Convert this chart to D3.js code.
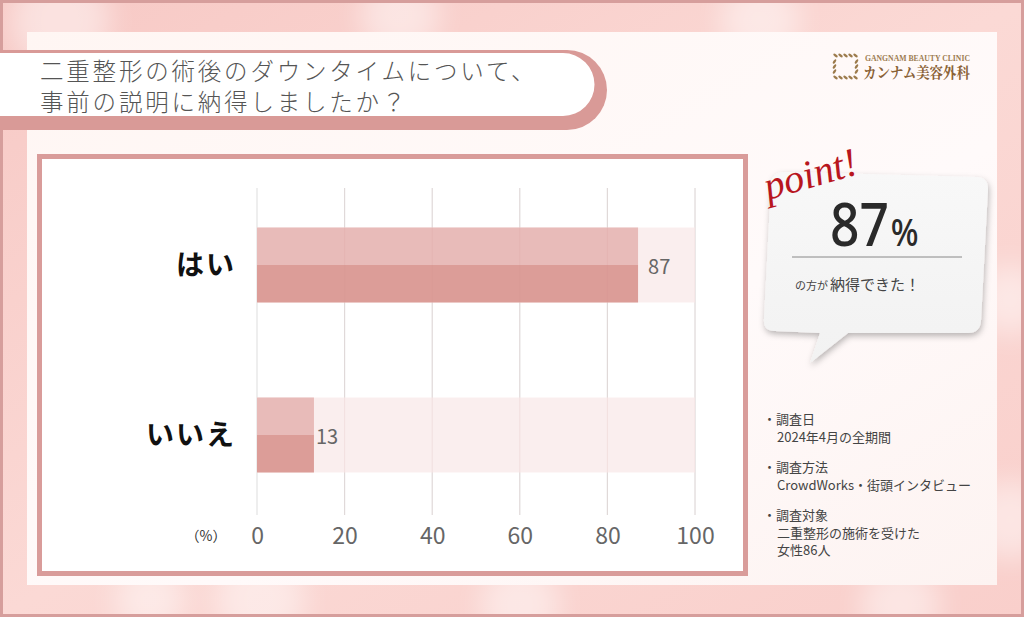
<!DOCTYPE html>
<html><head><meta charset="utf-8">
<script src="https://cdn.jsdelivr.net/npm/d3@7/dist/d3.min.js"></script>
<style>body{margin:0;overflow:hidden;background:#fff}svg{display:block}</style>
</head><body><svg id="c" width="1024" height="617"></svg>
<script>
// ---- data ----
const categories = ["はい", "いいえ"];
const values = [87, 13];
const xTicks = [0, 20, 40, 60, 80, 100];
const xMax = 100;
const titleLines = ["二重整形の術後のダウンタイムについて、", "事前の説明に納得しましたか？"];
const highlightValue = 87;
const highlightCaptionSmall = "の方が";
const highlightCaptionBig = "納得できた！";
const noteHeads = ["調査日", "調査方法", "調査対象"];
const noteBodies = [["2024年4月の全期間"], ["CrowdWorks・街頭インタビュー"], ["二重整形の施術を受けた", "女性86人"]];
const unitLabel = "（%）";

// ---- drawing ----
const svg = d3.select("#c");
const JP = "'Noto Sans CJK JP','Noto Sans',sans-serif";
const defs = svg.append("defs");

const bg = defs.append("linearGradient").attr("id", "bgG").attr("x1", 0).attr("y1", 0).attr("x2", 1).attr("y2", 1);
bg.append("stop").attr("offset", 0).attr("stop-color", "#f7c9c5");
bg.append("stop").attr("offset", 0.5).attr("stop-color", "#fbd9d5");
bg.append("stop").attr("offset", 1).attr("stop-color", "#f9cfcb");
const blur = defs.append("filter").attr("id", "blur").attr("x", "-50%").attr("y", "-50%").attr("width", "200%").attr("height", "200%");
blur.append("feGaussianBlur").attr("stdDeviation", 14);
const sh = defs.append("filter").attr("id", "sh").attr("x", "-20%").attr("y", "-20%").attr("width", "140%").attr("height", "150%");
sh.append("feDropShadow").attr("dx", 1).attr("dy", 3).attr("stdDeviation", 3).attr("flood-color", "#000").attr("flood-opacity", 0.28);
const cardG = defs.append("linearGradient").attr("id", "cardG").attr("x1", 0).attr("y1", 0).attr("x2", 1).attr("y2", 1);
cardG.append("stop").attr("offset", 0).attr("stop-color", "#fff6f3");
cardG.append("stop").attr("offset", 0.6).attr("stop-color", "#fffafa");
cardG.append("stop").attr("offset", 1).attr("stop-color", "#fdf3f1");
const bubG = defs.append("linearGradient").attr("id", "bubG").attr("x1", 0).attr("y1", 0).attr("x2", 0).attr("y2", 1);
bubG.append("stop").attr("offset", 0).attr("stop-color", "#f8f8f8");
bubG.append("stop").attr("offset", 1).attr("stop-color", "#f2f2f2");

// background
svg.append("rect").attr("width", 1024).attr("height", 617).attr("fill", "url(#bgG)");
const bokeh = [[60, 20, 50], [260, 600, 45], [520, 605, 40], [760, 20, 40], [1010, 300, 35], [1010, 520, 40], [150, 600, 35], [900, 605, 40], [400, 15, 40]];
svg.append("g").attr("filter", "url(#blur)").selectAll("circle").data(bokeh).join("circle")
  .attr("cx", d => d[0]).attr("cy", d => d[1]).attr("r", d => d[2]).attr("fill", "#fff").attr("opacity", 0.45);
svg.append("rect").attr("x", 1.5).attr("y", 1.5).attr("width", 1021).attr("height", 614)
  .attr("fill", "none").attr("stroke", "#d69e9c").attr("stroke-width", 3);

// card
svg.append("rect").attr("x", 27).attr("y", 32).attr("width", 970).attr("height", 553).attr("fill", "url(#cardG)");

// title banner
svg.append("path").attr("d", "M-5,50 H567 A40,40 0 0 1 567,130 H-5 Z").attr("fill", "#d99a97");
svg.append("path").attr("d", "M-5,53 H563 A31.5,31.5 0 0 1 563,116 H-5 Z").attr("fill", "#ffffff");
svg.append("g").selectAll("text").data(titleLines).join("text")
  .attr("x", 40).attr("y", (d, i) => 80 + i * 31)
  .attr("font-family", JP).attr("font-size", 23.5).attr("font-weight", 300)
  .attr("letter-spacing", 2.8).attr("fill", "#555").text(d => d);

// logo
const logo = svg.append("g").attr("transform", "translate(845.5,66.5)");
const leafPos = [];
for (let k = -2; k <= 2; k++) { leafPos.push([k * 5, -11, 0]); leafPos.push([k * 5, 11, 0]); }
for (let k = -1; k <= 1; k++) { leafPos.push([-11, k * 5, 90]); leafPos.push([11, k * 5, 90]); }
logo.selectAll("ellipse").data(leafPos).join("ellipse")
  .attr("transform", d => `translate(${d[0]},${d[1]}) rotate(${d[2] + 35})`)
  .attr("rx", 2.6).attr("ry", 1.2).attr("fill", "#9c7b4c");
svg.append("text").attr("x", 865).attr("y", 61).attr("font-family", "'Liberation Serif','DejaVu Serif',serif")
  .attr("font-size", 8).attr("font-weight", 700).attr("fill", "#9d7d52")
  .attr("textLength", 105).attr("lengthAdjust", "spacingAndGlyphs")
  .text("GANGNAM BEAUTY CLINIC");
svg.append("text").attr("x", 863).attr("y", 78).attr("font-family", "'Noto Serif CJK JP','Noto Sans CJK JP',serif")
  .attr("font-size", 15).attr("font-weight", 700).attr("fill", "#8a6236")
  .attr("textLength", 107).attr("lengthAdjust", "spacingAndGlyphs").text("カンナム美容外科");

// chart panel
svg.append("rect").attr("x", 39.5).attr("y", 156.5).attr("width", 706).attr("height", 417)
  .attr("fill", "#fff").attr("stroke", "#d99c9a").attr("stroke-width", 5);

const x = d3.scaleLinear().domain([0, xMax]).range([257, 695]);
const y = d3.scalePoint().domain(categories).range([265, 435]);
const barH = 75;

// grid
const grid = svg.append("g");
grid.selectAll("line").data(xTicks).join("line")
  .attr("x1", d => x(d)).attr("x2", d => x(d)).attr("y1", 188).attr("y2", 515)
  .attr("stroke", "#e3e3e3").attr("stroke-width", 1.2);

// tracks
svg.append("g").selectAll("rect").data(categories).join("rect")
  .attr("x", x(0)).attr("y", d => y(d) - barH / 2).attr("width", x(xMax) - x(0)).attr("height", barH)
  .attr("fill", "#f9ecec").attr("opacity", 0.9);
// bars: lighter top half, darker bottom half
const bars = svg.append("g");
bars.selectAll("rect.top").data(categories).join("rect").attr("class", "top")
  .attr("x", x(0)).attr("y", d => y(d) - barH / 2).attr("width", (d, i) => x(values[i]) - x(0)).attr("height", barH / 2)
  .attr("fill", "#e8bbb9");
bars.selectAll("rect.bot").data(categories).join("rect").attr("class", "bot")
  .attr("x", x(0)).attr("y", d => y(d)).attr("width", (d, i) => x(values[i]) - x(0)).attr("height", barH / 2)
  .attr("fill", "#dc9d98");
// grid faintly over bars
svg.append("g").selectAll("line").data(xTicks.filter(t => t > 0)).join("line")
  .attr("x1", d => x(d)).attr("x2", d => x(d)).attr("y1", 188).attr("y2", 515)
  .attr("stroke", "#c98884").attr("stroke-width", 1).attr("opacity", 0.12);

// value labels
svg.append("g").selectAll("text").data(categories).join("text")
  .attr("x", (d, i) => x(values[i]) + (values[i] > 50 ? 10 : 2)).attr("y", d => y(d) + 4)
  .attr("dominant-baseline", "middle").attr("font-family", JP).attr("font-size", 20)
  .attr("fill", "#666").text((d, i) => values[i]);

// category labels
svg.append("g").selectAll("text").data(categories).join("text")
  .attr("x", 236).attr("y", d => y(d) + 2).attr("text-anchor", "end").attr("dominant-baseline", "middle")
  .attr("font-family", JP).attr("font-size", 28).attr("font-weight", 700).attr("fill", "#111")
  .attr("letter-spacing", 2).text(d => d);

// x axis
const axis = svg.append("g").attr("transform", "translate(0,536)")
  .call(d3.axisBottom(x).tickValues(xTicks).tickSize(0).tickPadding(0));
axis.select(".domain").remove();
axis.selectAll("text").attr("font-family", JP).attr("font-size", 23).attr("fill", "#666")
  .attr("dy", "0.35em").attr("y", 0);
svg.append("text").attr("x", 206).attr("y", 537).attr("text-anchor", "middle").attr("dominant-baseline", "middle")
  .attr("font-family", JP).attr("font-size", 14).attr("fill", "#333").text(unitLabel);

// speech bubble
const bub = svg.append("g").attr("filter", "url(#sh)");
bub.append("path").attr("d",
  "M790,172 L976,177 Q988,177 988,189 L981,321 Q980,333 968,333 L848,333 L810,363 L820,333 L775,331 Q763,331 764,319 L771,184 Q772,172 784,172 Z")
  .attr("fill", "url(#bubG)");

svg.append("text").attr("x", 768).attr("y", 200).attr("transform", "rotate(-16,768,200)")
  .attr("font-family", "'Liberation Serif','DejaVu Serif',serif").attr("font-style", "italic")
  .attr("font-size", 40).attr("fill", "#b8161e").text("point!");

const big = svg.append("text").attr("transform", "translate(830,246) scale(0.86,1)")
  .attr("font-family", "'Noto Sans','Noto Sans CJK JP',sans-serif").attr("font-weight", 500).attr("fill", "#2a2a2a");
big.append("tspan").attr("font-size", 60).text(highlightValue);
big.append("tspan").attr("font-size", 38).attr("dx", 2).text("%");
svg.append("line").attr("x1", 792).attr("x2", 962).attr("y1", 257).attr("y2", 257)
  .attr("stroke", "#888").attr("stroke-width", 1);
const cap = svg.append("text").attr("x", 795).attr("y", 290).attr("font-family", JP).attr("fill", "#444");
cap.append("tspan").attr("font-size", 11).text(highlightCaptionSmall);
cap.append("tspan").attr("font-size", 15).attr("dx", 2).text(highlightCaptionBig);

// notes
const notesG = svg.append("g").attr("font-family", JP).attr("font-size", 13).attr("fill", "#444");
let ny = 424;
noteHeads.forEach((h, i) => {
  notesG.append("text").attr("x", 763).attr("y", ny).text("・" + h);
  noteBodies[i].forEach((b, j) => {
    notesG.append("text").attr("x", 777).attr("y", ny + 17.5 * (j + 1)).text(b);
  });
  ny += 17.5 * (noteBodies[i].length + 1) + 13;
});
</script></body></html>
